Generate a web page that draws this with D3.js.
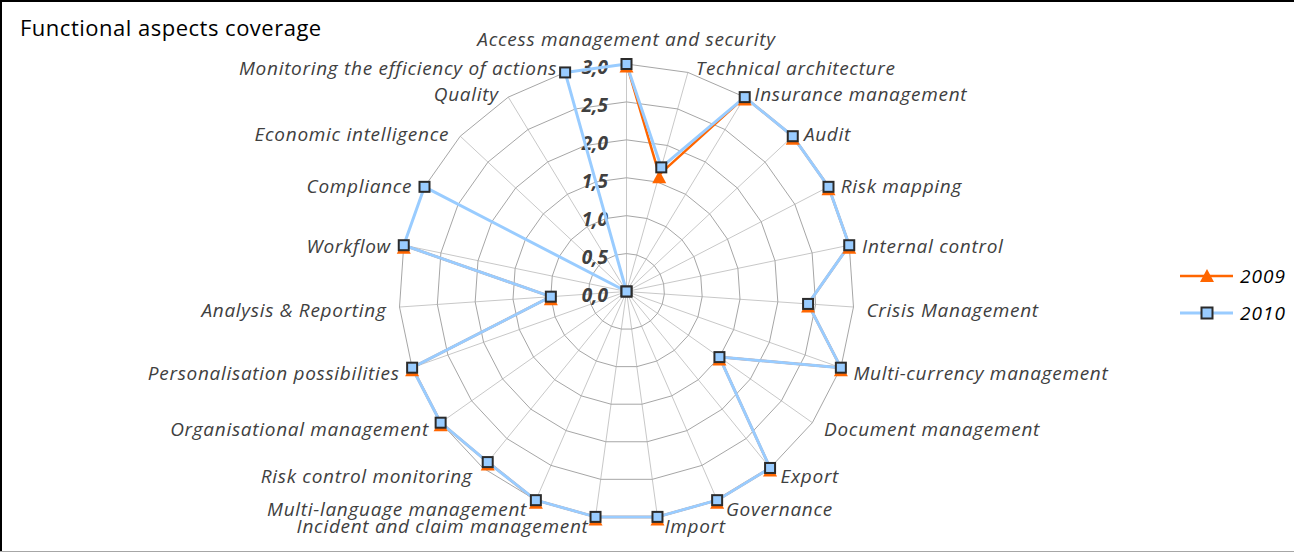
<!DOCTYPE html>
<html>
<head>
<meta charset="utf-8">
<script src="https://cdn.jsdelivr.net/npm/d3@7"></script>
<style>
  body { margin: 0; background: #fff; }
  text { font-family: "Open Sans", Lato, sans-serif; }
</style>
</head>
<body>
<div id="my_dataviz"></div>
<script>
// data
const categories = [
    "Access management and security", "Technical architecture", "Insurance management", "Audit",
    "Risk mapping", "Internal control", "Crisis Management", "Multi-currency management",
    "Document management", "Export", "Governance", "Import", "Incident and claim management",
    "Multi-language management", "Risk control monitoring", "Organisational management",
    "Personalisation  possibilities", "Analysis & Reporting", "Workflow", "Compliance",
    "Economic intelligence", "Quality", "Monitoring the efficiency of actions"
];
const values2009 = [3, 1.6, 3, 3, 3, 3, 2.4, 3, 1.5, 3, 3, 3, 3, 3, 2.9, 3, 3, 1, 3, null, null, null, null];
const values2010 = [3, 1.7, 3, 3, 3, 3, 2.4, 3, 1.5, 3, 3, 3, 3, 3, 2.9, 3, 3, 1, 3, 3, 0, 0, 3];
const ticks = [0, 0.5, 1, 1.5, 2, 2.5, 3];
const seriesNames = ["2009", "2010"];

const width = 1294, height = 552;
const cx = 626.5, cy = 291.5, R = 227.5;

const svg = d3.select("#my_dataviz")
    .append("svg")
    .attr("width", width)
    .attr("height", height);

// frame
svg.append("rect").attr("x", 0).attr("y", 0).attr("width", width).attr("height", height).attr("fill", "#fff");
svg.append("line").attr("x1", 0).attr("x2", width).attr("y1", 1).attr("y2", 1).attr("stroke", "#000").attr("stroke-width", 2);
svg.append("line").attr("x1", 1).attr("x2", 1).attr("y1", 0).attr("y2", height).attr("stroke", "#000").attr("stroke-width", 2);
svg.append("line").attr("x1", 0).attr("x2", width).attr("y1", height - 0.5).attr("y2", height - 0.5).attr("stroke", "#a6a6a6");

// title
svg.append("text")
    .attr("x", 20).attr("y", 36)
    .text("Functional aspects coverage")
    .style("font-size", "22px")
    .style("letter-spacing", "0.5px")
    .attr("fill", "#000");

// scales
const r = d3.scaleLinear().domain([0, 3]).range([0, R]);
const angle = d3.scaleLinear().domain([0, categories.length]).range([0, 2 * Math.PI]);
const px = (i, v) => cx + r(v) * Math.sin(angle(i));
const py = (i, v) => cy - r(v) * Math.cos(angle(i));

const g = svg.append("g");

// spokes
categories.forEach((c, i) => {
    g.append("line")
        .attr("x1", cx).attr("y1", cy)
        .attr("x2", px(i, 3)).attr("y2", py(i, 3))
        .attr("stroke", "#c8c8c8")
        .attr("stroke-width", 1);
});

// rings
ticks.filter(t => t > 0).forEach(t => {
    g.append("path")
        .attr("d", d3.line()(categories.map((c, i) => [px(i, t), py(i, t)])) + "Z")
        .attr("fill", "none")
        .attr("stroke", "#a6a6a6")
        .attr("stroke-width", 1);
});

// tick labels
ticks.forEach(t => {
    g.append("text")
        .attr("x", 608)
        .attr("y", cy - r(t) + 10)
        .attr("text-anchor", "end")
        .text(d3.format(".1f")(t).replace(".", ","))
        .style("font-size", "19px")
        .style("font-weight", "bold")
        .style("font-style", "italic")
        .attr("fill", "#404040");
});

// category labels
categories.forEach((c, i) => {
    const s = Math.sin(angle(i)), co = Math.cos(angle(i));
    const anchor = Math.abs(s) < 0.05 ? "middle" : (s > 0 ? "start" : "end");
    let x = cx + (R + 7) * s + (anchor === "middle" ? 0 : (s > 0 ? 6 : -6));
    let y = cy - (R + 7) * co + 3;
    if (anchor === "middle") y -= 21;
    g.append("text")
        .attr("x", x).attr("y", y)
        .attr("dy", "0.35em")
        .attr("text-anchor", anchor)
        .text(c)
        .style("font-size", "19px")
        .style("letter-spacing", "0.7px")
        .style("font-style", "italic")
        .attr("fill", "#404040");
});

// series lines
const line = d3.line()
    .defined(d => d[2] !== null)
    .x(d => d[0]).y(d => d[1]);

const pts2009 = values2009.map((v, i) => [px(i, v || 0), py(i, v || 0), v]);
const pts2010 = values2010.map((v, i) => [px(i, v), py(i, v), v]);

g.append("path")
    .attr("d", line(pts2009))
    .attr("fill", "none")
    .attr("stroke", "#ff6600")
    .attr("stroke-width", 2.5)
    .attr("stroke-linejoin", "round");

g.append("path")
    .attr("d", line(pts2010.concat([pts2010[0]])))
    .attr("fill", "none")
    .attr("stroke", "#99ccff")
    .attr("stroke-width", 3)
    .attr("stroke-linejoin", "round");

// markers
const tri = "M0,-4.5L7,8.5L-7,8.5Z";
pts2009.filter(d => d[2] !== null).forEach(d => {
    g.append("path")
        .attr("transform", `translate(${d[0]},${d[1]})`)
        .attr("d", tri)
        .attr("fill", "#ff6600");
});
pts2010.forEach(d => {
    g.append("rect")
        .attr("x", d[0] - 5).attr("y", d[1] - 5)
        .attr("width", 10).attr("height", 10)
        .attr("fill", "#99ccff")
        .attr("stroke", "#2b2b2b")
        .attr("stroke-width", 2);
});

// legend
const legendColors = ["#ff6600", "#99ccff"];
seriesNames.forEach((name, index) => {
    const ly = 276 + index * 37;
    svg.append("line")
        .attr("x1", 1180).attr("x2", 1233).attr("y1", ly).attr("y2", ly)
        .attr("stroke", legendColors[index])
        .attr("stroke-width", index === 0 ? 2.5 : 3);
    if (index === 0) {
        svg.append("path")
            .attr("transform", `translate(1207,${ly})`)
            .attr("d", "M0,-7L7,6L-7,6Z")
            .attr("fill", "#ff6600");
    } else {
        svg.append("rect")
            .attr("x", 1201.5).attr("y", ly - 5.5).attr("width", 11).attr("height", 11)
            .attr("fill", "#99ccff").attr("stroke", "#2b2b2b").attr("stroke-width", 2);
    }
    svg.append("text")
        .attr("x", 1240).attr("y", ly)
        .attr("dy", "0.35em")
        .text(name)
        .style("font-size", "19px")
        .style("letter-spacing", "1px")
        .style("font-style", "italic")
        .attr("fill", "#000");
});
</script>
</body>
</html>
